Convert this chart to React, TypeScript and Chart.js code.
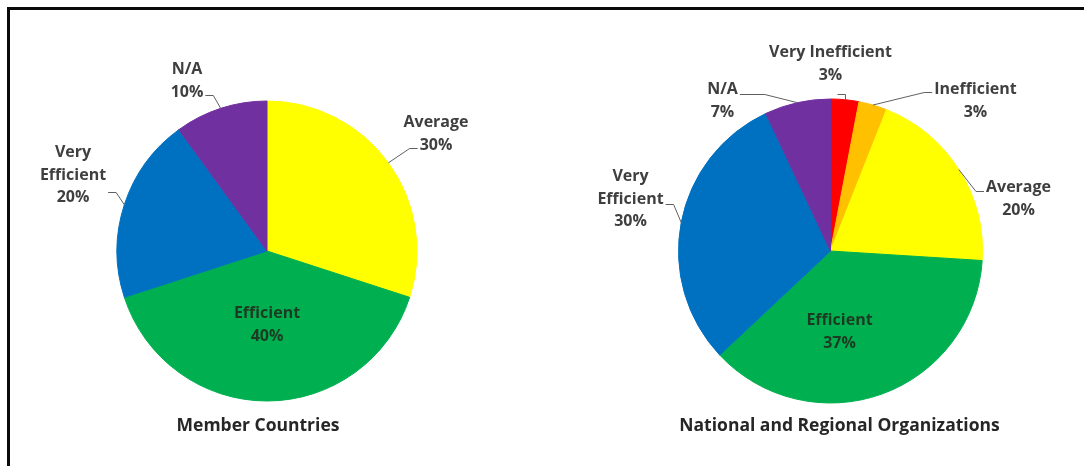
import React, { useEffect, useRef } from 'react';
import { Chart, registerables } from 'chart.js';

Chart.register(...registerables);

// ---------- data ----------
const memberCategories = ['Average', 'Efficient', 'Very Efficient', 'N/A'];
const memberValues = [30, 40, 20, 10];
const memberColors = ['#FFFF00', '#00B050', '#0070C0', '#7030A0'];

const orgCategories = ['Very Inefficient', 'Inefficient', 'Average', 'Efficient', 'Very Efficient', 'N/A'];
const orgValues = [3, 3, 20, 37, 30, 7];
const orgColors = ['#FF0000', '#FFC000', '#FFFF00', '#00B050', '#0070C0', '#7030A0'];

const chartTitles = ['Member Countries', 'National and Regional Organizations'];

// ---------- label layout (placement of data labels relative to pie centre) ----------
type LabelLayout = {
  dx: number; dy: number; inside?: boolean; wrap?: boolean;
  side?: 'left' | 'right' | 'bottom'; line?: number; ay?: number; el?: number; sx?: number;
};

const memberLabelLayout: LabelLayout[] = [
  { dx: 169, dy: -117, side: 'left', line: 1, ay: 3, el: 8 },
  { dx: 0, dy: 74, inside: true },
  { dx: -194, dy: -76, wrap: true, side: 'right', line: 1, ay: 17, el: 8 },
  { dx: -80, dy: -170, side: 'right', line: 1, ay: 3, el: 8 },
];

const orgLabelLayout: LabelLayout[] = [
  { dx: 0, dy: -187, side: 'bottom', sx: 7, ay: 30 },
  { dx: 145, dy: -150, side: 'left', line: 0, ay: 2, el: 8 },
  { dx: 188, dy: -52, side: 'left', line: 0, ay: 3, el: 8 },
  { dx: 9, dy: 81, inside: true },
  { dx: -200, dy: -52, wrap: true, side: 'right', line: 1, ay: 5, el: 8 },
  { dx: -108, dy: -150, side: 'right', line: 0, ay: 4, el: 25 },
];

const FONT = '"Open Sans", "DejaVu Sans", sans-serif';
const LABEL_SIZE = 16;
const TITLE_SIZE = 17.5;
const LINE_H = 22.5;
const LABEL_COLOR = '#3f3f3f';
const INNER_COLOR = '#1d3b22';
const TITLE_COLOR = '#262626';
const LEADER_COLOR = '#606060';

function makeLabelPlugin(layout: LabelLayout[], title: string, titleDx: number, titleDy: number) {
  return {
    id: 'excelLabels',
    afterDatasetsDraw(chart: any) {
      const ctx: CanvasRenderingContext2D = chart.ctx;
      const meta = chart.getDatasetMeta(0);
      const labels = chart.data.labels as string[];
      const data = chart.data.datasets[0].data as number[];
      ctx.save();
      ctx.textAlign = 'center';
      ctx.textBaseline = 'middle';
      let pcx = 0, pcy = 0;
      meta.data.forEach((el: any, i: number) => {
        const p = el.getProps(['x', 'y', 'startAngle', 'endAngle', 'outerRadius'], true);
        pcx = p.x; pcy = p.y;
        const L = layout[i];
        if (!L) return;
        const name = labels[i];
        const lines = L.wrap ? name.split(' ') : [name];
        lines.push(data[i] + '%');
        const cx = p.x + L.dx;
        const cy = p.y + L.dy;
        const y0 = cy - ((lines.length - 1) * LINE_H) / 2;
        ctx.font = `bold ${LABEL_SIZE}px ${FONT}`;
        ctx.fillStyle = L.inside ? INNER_COLOR : LABEL_COLOR;
        lines.forEach((t, k) => ctx.fillText(t, cx, y0 + k * LINE_H));
        if (L.inside) return;
        const mid = (p.startAngle + p.endAngle) / 2;
        const ex = p.x + Math.cos(mid) * p.outerRadius;
        const ey = p.y + Math.sin(mid) * p.outerRadius;
        ctx.beginPath();
        ctx.strokeStyle = LEADER_COLOR;
        ctx.lineWidth = 1;
        if (L.side === 'bottom') {
          const sx = cx + (L.sx || 0);
          const sy = cy + (L.ay || 0) + 0.5;
          ctx.moveTo(sx, sy);
          ctx.lineTo(Math.round(ex) + 0.5, sy);
          ctx.lineTo(Math.round(ex) + 0.5, ey);
        } else {
          const li = L.line || 0;
          const ly = Math.round(y0 + li * LINE_H + (L.ay || 0)) + 0.5;
          const w = ctx.measureText(lines[li]).width;
          const dir = L.side === 'right' ? 1 : -1;
          const sx = cx + dir * (w / 2 + 2);
          ctx.moveTo(sx, ly);
          ctx.lineTo(sx + dir * (L.el || 8), ly);
          ctx.lineTo(ex, ey);
        }
        ctx.stroke();
      });
      ctx.font = `bold ${TITLE_SIZE}px ${FONT}`;
      ctx.fillStyle = TITLE_COLOR;
      ctx.fillText(title, pcx + titleDx, pcy + titleDy);
      ctx.restore();
    },
  };
}

type PieProps = {
  categories: string[]; values: number[]; colors: string[];
  layout: LabelLayout[]; title: string; titleDx: number; titleDy: number;
  left: number; width: number; height: number;
  padding: { left: number; right: number; top: number; bottom: number };
};

function PieChart(props: PieProps) {
  const ref = useRef<HTMLCanvasElement>(null);
  useEffect(() => {
    const chart = new Chart(ref.current as HTMLCanvasElement, {
      type: 'pie',
      data: {
        labels: props.categories,
        datasets: [
          {
            data: props.values,
            backgroundColor: props.colors,
            borderColor: props.colors,
            borderWidth: 1,
            hoverOffset: 0,
            offset: 0,
          },
        ],
      },
      options: {
        responsive: false,
        animation: false,
        events: [],
        layout: { padding: props.padding },
        plugins: { legend: { display: false }, tooltip: { enabled: false }, title: { display: false } },
      },
      plugins: [makeLabelPlugin(props.layout, props.title, props.titleDx, props.titleDy)],
    } as any);
    return () => chart.destroy();
  }, []);
  return (
    <canvas
      ref={ref}
      width={props.width}
      height={props.height}
      style={{ position: 'absolute', left: props.left, top: 0, width: props.width, height: props.height }}
    />
  );
}

export default function App() {
  return (
    <div
      style={{
        position: 'fixed', left: 0, top: 0, width: 1084, height: 466,
        background: '#ffffff', overflow: 'hidden',
      }}
    >
      <div style={{ position: 'absolute', left: 7, top: 7, width: 1077, height: 3, background: '#0a0a0a' }} />
      <div style={{ position: 'absolute', left: 7, top: 7, width: 3, height: 459, background: '#0a0a0a' }} />
      <PieChart
        categories={memberCategories}
        values={memberValues}
        colors={memberColors}
        layout={memberLabelLayout}
        title={chartTitles[0]}
        titleDx={-9}
        titleDy={175}
        left={0}
        width={540}
        height={466}
        padding={{ left: 116.5, top: 100.5, right: 122.5, bottom: 64.5 }}
      />
      <PieChart
        categories={orgCategories}
        values={orgValues}
        colors={orgColors}
        layout={orgLabelLayout}
        title={chartTitles[1]}
        titleDx={9}
        titleDy={175}
        left={540}
        width={544}
        height={466}
        padding={{ left: 138, top: 98.5, right: 101, bottom: 62.5 }}
      />
    </div>
  );
}
